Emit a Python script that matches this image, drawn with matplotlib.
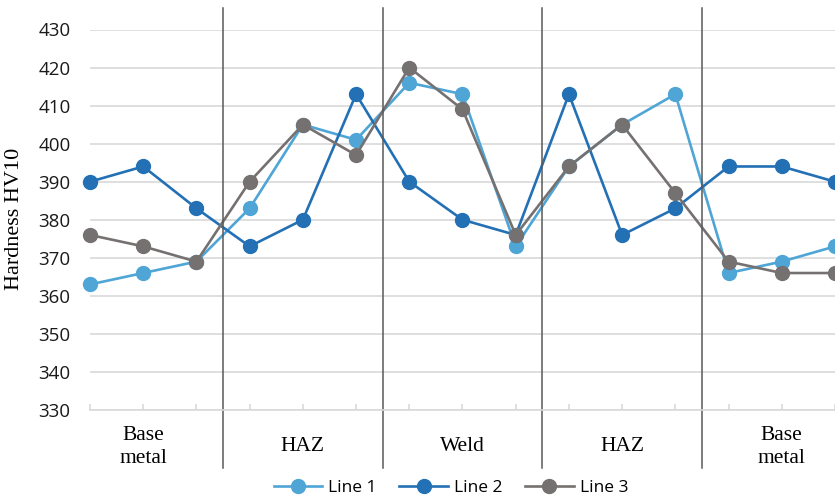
import numpy as np
import matplotlib.pyplot as plt
from matplotlib.transforms import blended_transform_factory

# hardness readings at 15 measuring points
line1 = [363, 366, 369, 383, 405, 401, 416, 413, 373, 394, 405, 413, 366, 369, 373]
line2 = [390, 394, 383, 373, 380, 413, 390, 380, 376, 413, 376, 383, 394, 394, 390]
line3 = [376, 373, 369, 390, 405, 397, 420, 409, 376, 394, 405, 387, 369, 366, 366]
zones = ['Base\nmetal', 'HAZ', 'Weld', 'HAZ', 'Base\nmetal']
series_names = ['Line 1', 'Line 2', 'Line 3']
colors = ['#4EA5D6', '#2370B5', '#767171']

x = np.arange(len(line1))

fig = plt.figure(figsize=(8.35, 5.01), dpi=100)
ax = fig.add_axes([90 / 835, 91 / 501, 745 / 835, 380.5 / 501])

for vals, name, c in zip([line1, line2, line3], series_names, colors):
    ax.plot(x, vals, color=c, lw=1.9, marker='o', ms=10, label=name, clip_on=False)

ax.set_xlim(0, 14)
ax.set_ylim(330, 430)
ax.set_yticks(np.arange(330, 431, 10))
ax.set_xticks(x)
ax.set_xticklabels([])
ax.grid(axis='y', color='#D9D9D9', lw=1.2)
ax.set_axisbelow(True)
for s in ['left', 'top', 'right']:
    ax.spines[s].set_visible(False)
ax.spines['bottom'].set_color('#D9D9D9')
ax.spines['bottom'].set_linewidth(1.2)
ax.tick_params(axis='x', direction='in', length=4.5, color='#D9D9D9', width=1.2)
ax.tick_params(axis='y', length=0, pad=14)
for lbl in ax.get_yticklabels():
    lbl.set_fontfamily('Open Sans')
    lbl.set_fontsize(13.5)
    lbl.set_color('#1a1a1a')

# zone separators and labels
trans = blended_transform_factory(ax.transData, ax.transAxes)
for i in range(1, len(zones)):
    xs = i * 3 - 0.5
    ax.plot([xs, xs], [1.057, -0.152], color='#595959', lw=1.1, transform=trans, clip_on=False)
for i, z in enumerate(zones):
    ax.text(i * 3 + 1, -0.097, z, transform=trans, ha='center', va='center',
            fontsize=15.5, family='Liberation Serif', linespacing=1.25)

fig.text(15 / 835, 1 - 219 / 501, 'Hardness HV10', rotation=90, ha='center', va='center',
         fontsize=16, family='Liberation Serif')

leg = fig.legend(loc='center', bbox_to_anchor=(451 / 835, 13 / 501), ncol=3, frameon=False,
                 prop={'family': 'Open Sans', 'size': 12.5}, handlelength=2.8,
                 handletextpad=0.35, columnspacing=1.3)

fig.savefig('out.png', dpi=100)
